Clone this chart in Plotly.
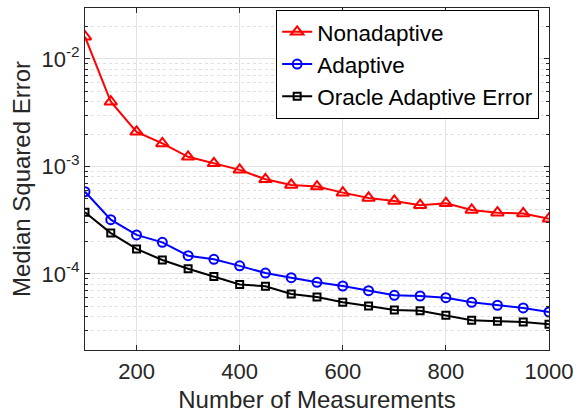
import plotly.graph_objects as go

x_vals = [100, 150, 200, 250, 300, 350, 400, 450, 500, 550, 600, 650, 700, 750, 800, 850, 900, 950, 1000]
nonadaptive = [0.0161, 0.0040, 0.0021, 0.00164, 0.00123, 0.00107, 0.00093, 0.00076, 0.000673, 0.00065,
               0.000571, 0.00051, 0.000478, 0.000436, 0.000455, 0.000394, 0.000372, 0.000366, 0.000327]
adaptive = [0.000583, 0.00032, 0.000231, 0.000197, 0.000148, 0.000137, 0.000119, 0.000102, 9.24e-5, 8.37e-5,
            7.73e-5, 7.0e-5, 6.34e-5, 6.24e-5, 6.02e-5, 5.45e-5, 5.12e-5, 4.83e-5, 4.43e-5]
oracle = [0.000375, 0.00024, 0.000171, 0.000135, 0.000112, 9.5e-5, 8.0e-5, 7.68e-5, 6.52e-5, 6.11e-5,
          5.45e-5, 5.04e-5, 4.62e-5, 4.56e-5, 4.13e-5, 3.71e-5, 3.63e-5, 3.58e-5, 3.40e-5]
x_ticks = [200, 400, 600, 800, 1000]
y_ticks = [1e-4, 1e-3, 1e-2]
y_ticktext = ["10<sup>-4</sup>", "10<sup>-3</sup>", "10<sup>-2</sup>"]

fig = go.Figure()
fig.add_trace(go.Scatter(x=x_vals, y=nonadaptive, name="Nonadaptive", mode="lines+markers",
                         line=dict(color="#ff0000", width=2),
                         marker=dict(symbol="triangle-up-open", size=11, color="#ff0000", line=dict(width=2))))
fig.add_trace(go.Scatter(x=x_vals, y=adaptive, name="Adaptive", mode="lines+markers",
                         line=dict(color="#0000ff", width=2),
                         marker=dict(symbol="circle-open", size=9, color="#0000ff", line=dict(width=2))))
fig.add_trace(go.Scatter(x=x_vals, y=oracle, name="Oracle Adaptive Error", mode="lines+markers",
                         line=dict(color="#000000", width=2),
                         marker=dict(symbol="square-open", size=7, color="#000000", line=dict(width=2))))

font_fam = "Liberation Sans, Arial, sans-serif"
fig.update_layout(
    width=576, height=413,
    margin=dict(l=85, r=27, t=8, b=63, autoexpand=False),
    paper_bgcolor="white", plot_bgcolor="white",
    font=dict(family=font_fam, color="#262626"),
    showlegend=True,
    legend=dict(x=0.412, y=0.995, xanchor="left", yanchor="top",
                bgcolor="white", bordercolor="black", borderwidth=1,
                font=dict(size=22.5, color="black", family=font_fam),
                tracegroupgap=0, itemwidth=30),
)
fig.update_xaxes(
    range=[100, 1000], tickvals=x_ticks, ticks="inside", ticklen=5, tickcolor="#262626",
    tickfont=dict(size=22), showline=True, linecolor="#262626", linewidth=1, mirror="ticks",
    showgrid=True, gridcolor="#e3e3e3", gridwidth=1, zeroline=False, automargin=False,
    ticklabelstandoff=2,
    title=dict(text="Number of Measurements", font=dict(size=24), standoff=8),
)
fig.update_yaxes(
    type="log", range=[-4.707, -1.526], tickvals=y_ticks, ticktext=y_ticktext,
    ticks="inside", ticklen=5, tickcolor="#262626", tickfont=dict(size=22),
    showline=True, linecolor="#262626", linewidth=1, mirror="ticks",
    showgrid=True, gridcolor="#e3e3e3", gridwidth=1, zeroline=False, automargin=False,
    minor=dict(tickvals=[m * 10 ** e for e in (-5, -4, -3, -2) for m in range(2, 10)],
               ticks="inside", ticklen=3, tickcolor="#262626",
               showgrid=True, gridcolor="#e0e0e0", griddash="dot", gridwidth=1),
    title=dict(text="Median Squared Error", font=dict(size=24), standoff=4),
)
fig.write_html("out.html", post_script="document.body.style.margin='0';",
               config={"displayModeBar": False})
